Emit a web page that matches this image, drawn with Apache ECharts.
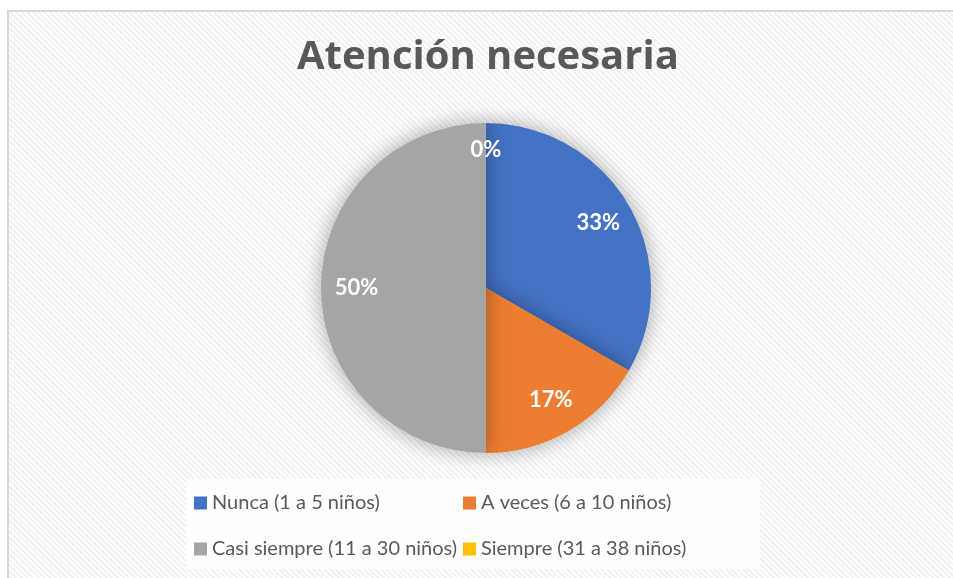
<!DOCTYPE html>
<html lang="es">
  <head>
    <meta charset="utf-8" />
    <title>Atención necesaria</title>
    <script src="https://cdn.jsdelivr.net/npm/echarts@6/dist/echarts.min.js"></script>
    <style>
      html, body { margin: 0; padding: 0; background: #fff; }
      #frame {
        position: absolute; left: 7px; top: 10px; width: 960px; height: 580px;
        border: 2px solid #d9d9d9;
        background: repeating-linear-gradient(45deg, #fff 0px, #fff 2px, #f2f2f2 2px, #f2f2f2 4px);
      }
      #main { position: absolute; left: 0; top: 0; width: 953px; height: 578px; }
    </style>
  </head>
  <body>
    <div id="frame"></div>
    <div id="main"></div>
    <script type="text/javascript">
      const categories = ['Nunca (1 a 5 niños)', 'A veces (6 a 10 niños)', 'Casi siempre (11 a 30 niños)', 'Siempre (31 a 38 niños)']
      const values = [2, 1, 3, 0]
      const colors = ['#4472C4', '#ED7D31', '#A5A5A5', '#FFC000']

      const myChart = echarts.init(document.getElementById('main'))

      const data = categories.map((name, i) => ({ name: name, value: values[i], itemStyle: { color: colors[i] } }))

      const legendText = { fontSize: 20, color: '#595959', fontFamily: 'Lato, sans-serif' }

      const option = {
        backgroundColor: 'transparent',
        title: {
          text: 'Atención necesaria',
          left: 297,
          top: 38,
          padding: 0,
          textStyle: { fontSize: 40, fontWeight: 'bold', color: '#595959', fontFamily: '"Open Sans", sans-serif' }
        },
        graphic: [{
          type: 'rect',
          left: 186, top: 479,
          shape: { width: 574, height: 90 },
          style: { fill: 'rgba(255,255,255,0.92)' },
          z: 0
        }],
        legend: [
          {
            data: [categories[0], categories[2]],
            orient: 'vertical',
            left: 194, top: 493,
            padding: 0,
            itemGap: 26, itemWidth: 13, itemHeight: 13, itemGap: 26, icon: 'rect',
            textStyle: legendText
          },
          {
            data: [categories[1], categories[3]],
            orient: 'vertical',
            left: 463, top: 493,
            padding: 0,
            itemGap: 26, itemWidth: 13, itemHeight: 13, icon: 'rect',
            textStyle: legendText
          }
        ],
        series: [
          {
            type: 'pie',
            center: [486, 288],
            radius: [0, 165],
            startAngle: 90,
            clockwise: true,
            data: data,
            label: { show: false },
            labelLine: { show: false },
            itemStyle: { shadowBlur: 22, shadowColor: 'rgba(0,0,0,0.35)' },
            emphasis: { disabled: true }
          },
          {
            // transparent ring that only carries the percent labels
            type: 'pie',
            center: [486, 288],
            radius: [88, 165],
            startAngle: 90,
            clockwise: true,
            silent: true,
            percentPrecision: 0,
            data: categories.map((name, i) => values[i] === 0
              ? { name: name, value: values[i], label: { offset: [0, -9] } }
              : { name: name, value: values[i] }),
            itemStyle: { color: 'rgba(0,0,0,0)' },
            label: {
              show: true,
              position: 'inside',
              formatter: '{d}%',
              fontSize: 22,
              fontWeight: 'bold',
              color: '#fff',
              fontFamily: 'Lato, sans-serif'
            },
            labelLine: { show: false },
            emphasis: { disabled: true }
          }
        ]
      }
      myChart.setOption(option)
    </script>
  </body>
</html>
